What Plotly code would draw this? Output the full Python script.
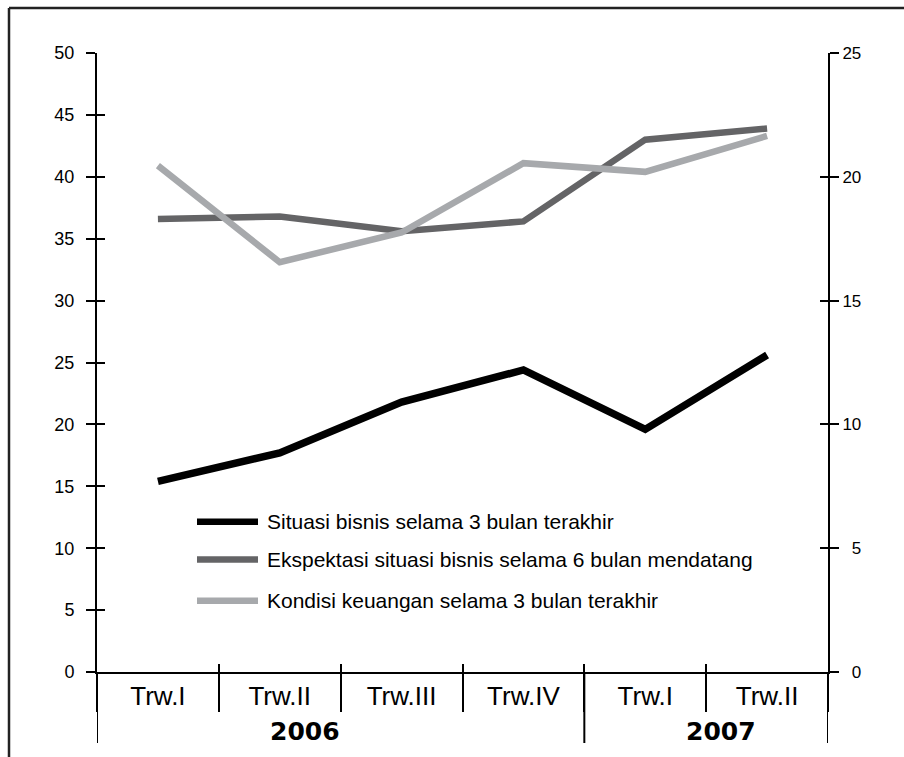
import plotly.graph_objects as go

quarters = ["Trw.I", "Trw.II", "Trw.III", "Trw.IV", "Trw.I", "Trw.II"]
years = ["2006", "2007"]
series_names = [
    "Situasi bisnis selama 3 bulan terakhir",
    "Ekspektasi situasi bisnis selama 6 bulan mendatang",
    "Kondisi keuangan selama 3 bulan terakhir",
]
situasi = [15.4, 17.7, 21.8, 24.4, 19.6, 25.6]
ekspektasi = [36.6, 36.8, 35.6, 36.4, 43.0, 43.9]
kondisi = [40.9, 33.1, 35.5, 41.1, 40.4, 43.3]
left_ticks = [0, 5, 10, 15, 20, 25, 30, 35, 40, 45, 50]
right_ticks = [0, 5, 10, 15, 20, 25]
right_ticktext = ["\u20070", "\u20075", "10", "15", "20", "25"]

colors = ["#000000", "#646466", "#a7a9ac"]
widths = [7.5, 6.5, 6.5]
xs = list(range(len(quarters)))
boundaries = [i - 0.5 for i in range(len(quarters) + 1)]

W, H = 904, 757
L, R, T, B = 97, 76, 53, 85
PW, PH = W - L - R, H - T - B


def px_x(px):
    return (px - L) / PW


def px_y(py):
    return (H - B - py) / PH


fig = go.Figure()
for name, vals, c, w in zip(series_names, [situasi, ekspektasi, kondisi], colors, widths):
    fig.add_trace(go.Scatter(x=xs, y=vals, name=name, mode="lines",
                             line=dict(color=c, width=w), showlegend=False))

# helper empty traces so the auxiliary axes (crossing ticks, right axis) are drawn
fig.add_trace(go.Scatter(x=[], y=[], xaxis="x", yaxis="y3", showlegend=False, hoverinfo="skip"))
fig.add_trace(go.Scatter(x=[], y=[], xaxis="x", yaxis="y4", showlegend=False, hoverinfo="skip"))
fig.add_trace(go.Scatter(x=[], y=[], xaxis="x2", yaxis="y", showlegend=False, hoverinfo="skip"))
fig.add_trace(go.Scatter(x=[], y=[], xaxis="x", yaxis="y2", showlegend=False, hoverinfo="skip"))

axis_common = dict(showgrid=False, zeroline=False, linecolor="black", tickcolor="black")

fig.update_layout(
    width=W, height=H,
    margin=dict(l=L, r=R, t=T, b=B),
    paper_bgcolor="white", plot_bgcolor="white",
    font=dict(family="Liberation Sans, Arial, sans-serif", color="black"),
    showlegend=False,
    xaxis=dict(range=[-0.5, len(quarters) - 0.5], tickmode="array", tickvals=xs, ticktext=quarters,
               ticks="", showline=True, linewidth=2, tickfont=dict(size=26),
               ticklabelstandoff=0,
               minor=dict(tickmode="array", tickvals=boundaries, ticks="outside", ticklen=38,
                          tickwidth=2, tickcolor="black"),
               anchor="y", **axis_common),
    xaxis2=dict(range=[-0.5, len(quarters) - 0.5], overlaying="x", anchor="y", side="bottom",
                tickmode="array", tickvals=boundaries, ticks="inside", ticklen=8, tickwidth=2,
                showticklabels=False, showline=False, **axis_common),
    yaxis=dict(range=[0, 50], tickmode="array", tickvals=left_ticks, ticks="outside", ticklen=9,
               tickwidth=2, showline=True, linewidth=2, tickfont=dict(size=18),
               ticklabelstandoff=8, anchor="x", **axis_common),
    yaxis3=dict(range=[0, 50], overlaying="y", side="left", anchor="x", tickmode="array",
                tickvals=left_ticks, ticks="inside", ticklen=8, tickwidth=2,
                showticklabels=False, showline=False, **axis_common),
    yaxis2=dict(range=[0, 25], overlaying="y", side="right", anchor="x", tickmode="array",
                tickvals=right_ticks, ticktext=right_ticktext, ticks="outside", ticklen=9,
                tickwidth=2, showline=True, linewidth=2, tickfont=dict(size=17),
                ticklabelstandoff=0, **axis_common),
    yaxis4=dict(range=[0, 25], overlaying="y", side="right", anchor="x", tickmode="array",
                tickvals=right_ticks, ticks="inside", ticklen=8, tickwidth=2,
                showticklabels=False, showline=False, **axis_common),
)

shapes = []
# group dividers extending below the axis
for xb in [-0.5, 3.5, 5.5]:
    shapes.append(dict(type="line", xref="x", yref="paper", x0=xb, x1=xb,
                       y0=0, y1=px_y(743), line=dict(color="black", width=2)))
# outer frame (cropped at right and bottom)
shapes.append(dict(type="line", xref="paper", yref="paper", x0=px_x(9), x1=px_x(912),
                   y0=px_y(8), y1=px_y(8), line=dict(color="#222222", width=2.5)))
shapes.append(dict(type="line", xref="paper", yref="paper", x0=px_x(9), x1=px_x(9),
                   y0=px_y(8), y1=px_y(765), line=dict(color="#222222", width=2.5)))

annotations = []
# year labels
for yr, xc in zip(years, [1.21, 4.62]):
    annotations.append(dict(text=yr, x=xc, xref="x", y=px_y(731), yref="paper",
                            showarrow=False, xanchor="center", yanchor="middle",
                            font=dict(family="DejaVu Sans", size=25, color="black", weight="bold")))

# custom legend
leg_rows = [521.7, 559.5, 600.7]
for name, c, row in zip(series_names, colors, leg_rows):
    shapes.append(dict(type="line", xref="paper", yref="paper", x0=px_x(197), x1=px_x(258),
                       y0=px_y(row), y1=px_y(row), line=dict(color=c, width=6.5)))
    annotations.append(dict(text=name, x=px_x(265), xref="paper", y=px_y(row), yref="paper",
                            showarrow=False, xanchor="left", yanchor="middle",
                            font=dict(size=21, color="black")))

fig.update_layout(shapes=shapes, annotations=annotations)
fig.write_html("out.html")
